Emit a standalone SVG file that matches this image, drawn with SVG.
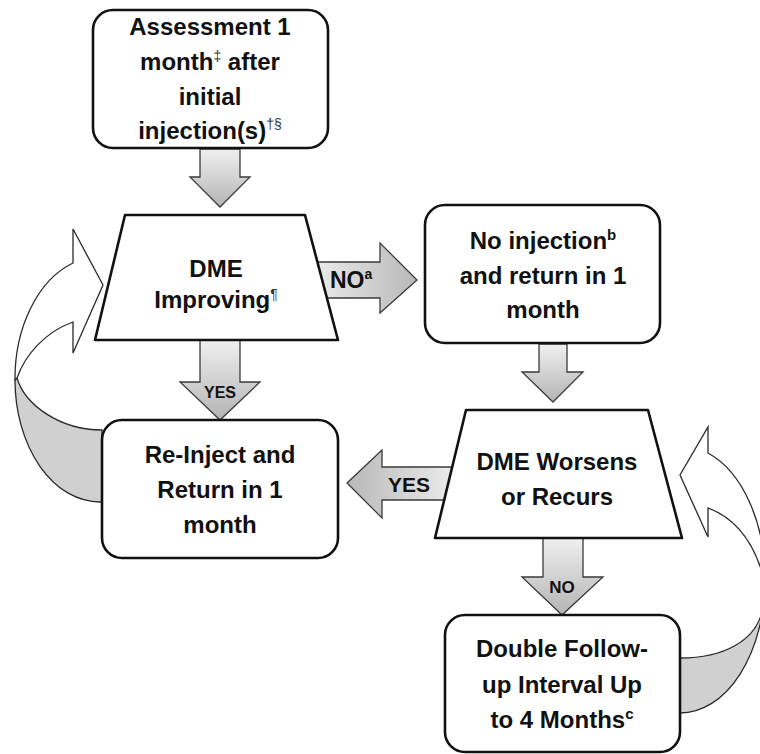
<svg xmlns="http://www.w3.org/2000/svg" width="760" height="754" viewBox="0 0 760 754">
<defs>
<linearGradient id="gDown" x1="0" y1="0" x2="0" y2="1">
<stop offset="0" stop-color="#f0f0f0"/>
<stop offset="1" stop-color="#b4b4b4"/>
</linearGradient>
<linearGradient id="gRight" x1="0" y1="0" x2="1" y2="0">
<stop offset="0" stop-color="#ececec"/>
<stop offset="1" stop-color="#b8b8b8"/>
</linearGradient>
<linearGradient id="gLeft" x1="1" y1="0" x2="0" y2="0">
<stop offset="0" stop-color="#ececec"/>
<stop offset="1" stop-color="#b8b8b8"/>
</linearGradient>
</defs>
<style>
.node{fill:#ffffff;stroke:#111;stroke-width:2.6;stroke-linejoin:round}
.arr{stroke:#3a3a3a;stroke-width:1.3;stroke-linejoin:miter}
.cw{fill:#ffffff;stroke:#2a2a2a;stroke-width:1.3}
.cg{fill:#d0d0d0;stroke:#2a2a2a;stroke-width:1.3}
.t{font-family:"Liberation Sans",Arial,sans-serif;font-weight:bold;font-size:24px;fill:#111;text-anchor:middle}
.lbl{font-family:"Liberation Sans",Arial,sans-serif;font-weight:bold;fill:#111}
.sup{font-size:14px;font-weight:normal;fill:#333}
</style>
<rect width="760" height="754" fill="#ffffff"/>
<g id="connectors">
<!-- curved loop left -->
<path class="cg" d="M17,378 C25,405 60,430 102,430 L102,502 L100,502 A85,122 0 0 1 15,380 Z"/>
<path class="cw" d="M15,380 A85,122 0 0 1 73,263 L73,229 L103,285 L73,353 L73,322 C45,332 25,355 17,378 Z"/>
<!-- curved loop right -->
<path class="cg" d="M680,658 C725,658 755,640 762,612 L765,598 L765,580 A85,133 0 0 1 680,713 Z"/>
<path class="cw" d="M708,453 A85,133 0 0 1 765,580 L762,572 C752,540 735,518 708,508 L708,537 L680,475 L708,427 Z"/>
<!-- straight arrows -->
<polygon class="arr" fill="url(#gDown)" points="200,149 240,149 240,177 250,177 220,207 190,177 200,177"/>
<polygon class="arr" fill="url(#gRight)" points="312,262 380,262 380,243 417,280 380,313 380,298 312,298"/>
<polygon class="arr" fill="url(#gDown)" points="200,339 240,339 240,382 260,382 220,420 180,382 200,382"/>
<polygon class="arr" fill="url(#gDown)" points="539,344 567,344 567,372 583,372 553,402 522,372 539,372"/>
<polygon class="arr" fill="url(#gLeft)" points="455,467 382,467 382,450 347,483 382,518 382,500 455,500"/>
<polygon class="arr" fill="url(#gDown)" points="543,537 583,537 583,577 603,577 562,615 522,577 543,577"/>
<text class="lbl" x="330" y="288" font-size="23">NO<tspan font-size="14" dy="-9">a</tspan></text>
<text class="lbl" x="388" y="492" font-size="21">YES</text>
<text class="lbl" x="220" y="398" font-size="16" text-anchor="middle">YES</text>
<text class="lbl" x="562" y="593" font-size="17" text-anchor="middle">NO</text>
</g>
<g id="node-assessment">
<rect class="node" x="93" y="10" width="235" height="138" rx="20"/>
<text class="t" x="210" y="35">Assessment 1</text>
<text class="t" x="210" y="70">month<tspan class="sup" dy="-9">‡</tspan><tspan dy="9"> after</tspan></text>
<text class="t" x="210" y="105">initial</text>
<text class="t" x="210" y="139">injection(s)<tspan class="sup" dy="-10">†§</tspan></text>
</g>
<g id="node-dme-improving">
<polygon class="node" points="125,215 305,215 338,340 95,340"/>
<text class="t" x="216" y="277">DME</text>
<text class="t" x="216" y="308">Improving<tspan class="sup" dy="-9">¶</tspan></text>
</g>
<g id="node-no-injection">
<rect class="node" x="425" y="205" width="235" height="138" rx="20"/>
<text class="t" x="543" y="249">No injection<tspan font-size="15" dy="-9">b</tspan></text>
<text class="t" x="543" y="284">and return in 1</text>
<text class="t" x="543" y="318">month</text>
</g>
<g id="node-reinject">
<rect class="node" x="102" y="420" width="236" height="138" rx="20"/>
<text class="t" x="220" y="463">Re-Inject and</text>
<text class="t" x="220" y="498">Return in 1</text>
<text class="t" x="220" y="533">month</text>
</g>
<g id="node-dme-worsens">
<polygon class="node" points="466,410 648,410 682,538 435,538"/>
<text class="t" x="557" y="470">DME Worsens</text>
<text class="t" x="557" y="505">or Recurs</text>
</g>
<g id="node-double-followup">
<rect class="node" x="445" y="615" width="235" height="137" rx="20"/>
<text class="t" x="562" y="657">Double Follow-</text>
<text class="t" x="562" y="693">up Interval Up</text>
<text class="t" x="562" y="728">to 4 Months<tspan font-size="15" dy="-9">c</tspan></text>
</g>
</svg>
